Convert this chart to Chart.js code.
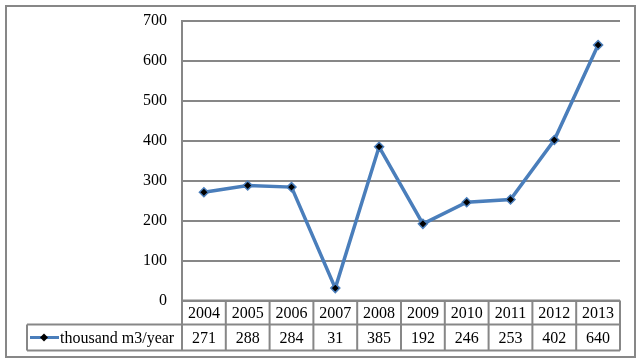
<!DOCTYPE html>
<html>
<head>
<meta charset="UTF-8">
<title>thousand m3/year</title>
<style>
	body { margin: 0; background: #fff; }
	.container { width: 640px; height: 363px; }
</style>
<script src="https://cdn.jsdelivr.net/npm/chart.js@4/dist/chart.umd.min.js"></script>
</head>
<body>
<div class="container"><canvas id="myChart" width="640" height="363"></canvas></div>
<script>
	// data
	var years = ['2004', '2005', '2006', '2007', '2008', '2009', '2010', '2011', '2012', '2013'];
	var volumes = [271, 288, 284, 31, 385, 192, 246, 253, 402, 640];
	var seriesName = 'thousand m3/year';
	var yMax = 700, yStep = 100;

	var gray = '#878787';
	var blue = '#4A7EBB';
	var family = '"Liberation Serif", "Times New Roman", serif';
	var font = '16px ' + family;

	// outer frame + data table under the plot
	var tablePlugin = {
		id: 'dataTable',
		afterDraw: function(chart) {
			var ctx = chart.ctx;
			var area = chart.chartArea;
			var x = chart.scales.x;
			var colW = (area.right - area.left) / years.length;
			var top = area.bottom, mid = top + 24, bot = top + 50;
			var legendLeft = 27;

			ctx.save();
			ctx.strokeStyle = gray;
			ctx.lineWidth = 2;
			ctx.strokeRect(6, 6, 629, 351);

			ctx.beginPath();
			ctx.moveTo(area.left, top); ctx.lineTo(area.right, top);
			ctx.moveTo(legendLeft, mid); ctx.lineTo(area.right, mid);
			ctx.moveTo(legendLeft, bot); ctx.lineTo(area.right, bot);
			ctx.moveTo(legendLeft, mid); ctx.lineTo(legendLeft, bot);
			for (var i = 0; i <= years.length; i++) {
				var cx = area.left + i * colW;
				ctx.moveTo(cx, top); ctx.lineTo(cx, bot);
			}
			ctx.stroke();

			ctx.font = font;
			ctx.fillStyle = '#000';
			ctx.textAlign = 'center';
			ctx.textBaseline = 'middle';
			years.forEach(function(y, i) {
				var px = x.getPixelForValue(i);
				ctx.fillText(y, px, top + 13);
				ctx.fillText(String(volumes[i]), px, mid + 14);
			});

			// legend key
			var ky = mid + 13;
			ctx.strokeStyle = blue;
			ctx.lineWidth = 3;
			ctx.beginPath();
			ctx.moveTo(30, ky); ctx.lineTo(59, ky);
			ctx.stroke();
			ctx.fillStyle = '#000';
			ctx.beginPath();
			ctx.moveTo(44, ky - 4); ctx.lineTo(48, ky); ctx.lineTo(44, ky + 4); ctx.lineTo(40, ky);
			ctx.closePath();
			ctx.fill();
			ctx.textAlign = 'left';
			ctx.fillText(seriesName, 60, ky + 1);
			ctx.restore();
		}
	};

	var ctx = document.getElementById('myChart').getContext('2d');
	var myChart = new Chart(ctx, {
		type: 'line',
		data: {
			labels: years,
			datasets: [{
				label: seriesName,
				data: volumes,
				borderColor: blue,
				borderWidth: 3.5,
				backgroundColor: '#000',
				pointStyle: 'rectRot',
				pointRadius: 4.5,
				pointBorderColor: blue,
				pointBorderWidth: 1.5,
				tension: 0
			}]
		},
		options: {
			responsive: false,
			animation: false,
			layout: { padding: { left: 7, top: 21, right: 20, bottom: 62.5 } },
			plugins: { legend: { display: false }, tooltip: { enabled: false } },
			scales: {
				x: {
					display: false,
					offset: true
				},
				y: {
					min: 0,
					max: yMax,
					// fixed axis width, no extra label padding, so the plot sits where the original does
					afterFit: function(s) { s.width = 175; s.paddingTop = 0; s.paddingBottom = 0; },
					ticks: {
						stepSize: yStep,
						padding: 15,
						color: '#000',
						font: { family: family, size: 16 }
					},
					grid: { color: gray, lineWidth: 2, drawTicks: false },
					border: { color: gray, width: 2 }
				}
			}
		},
		plugins: [tablePlugin]
	});
</script>
</body>
</html>
